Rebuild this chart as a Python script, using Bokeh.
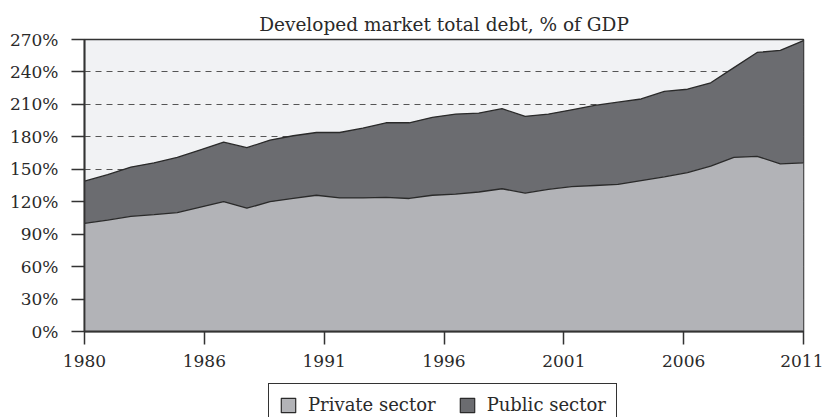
from bokeh.plotting import figure
from bokeh.layouts import column
from bokeh.models import Range1d, FixedTicker, Legend, LegendItem, ColumnDataSource
from bokeh.embed import file_html
from bokeh.resources import INLINE

years = list(range(1980, 2012))
private_sector = [100, 103, 106.5, 108, 110, 115, 120, 114, 120, 123, 126, 123.5,
                  123.5, 124, 123, 126, 127, 129, 132, 128, 131.5, 134, 135, 136,
                  139.5, 143, 147, 153, 161, 162, 155, 156]
public_sector = [39, 42, 45.5, 48, 51, 53, 55, 56, 57, 58, 58, 60.5,
                 64.5, 69, 70, 72, 74, 73, 74, 71, 69.5, 71, 74, 76,
                 75.5, 79, 77, 77, 83, 96, 105, 113]
y_ticks = [0, 30, 60, 90, 120, 150, 180, 210, 240, 270]
y_tick_labels = ["0%", "30%", "60%", "90%", "120%", "150%", "180%", "210%", "240%", "270%"]
x_tick_labels = ["1980", "1986", "1991", "1996", "2001", "2006", "2011"]
title_text = "Developed market total debt, % of GDP"
series_names = ["Private sector", "Public sector"]

FONT = "DejaVu Serif"
DARK = "#2a2a2a"
PRIVATE_COLOR = "#b2b3b7"
PUBLIC_COLOR = "#6b6c70"

total = [a + b for a, b in zip(private_sector, public_sector)]
zeros = [0] * len(years)
src = ColumnDataSource(dict(x=years, zero=zeros, private=private_sector, total=total))

x0, x1 = years[0], years[-1]
n = len(x_tick_labels) - 1
x_tick_pos = [x0 + i * (x1 - x0) / n for i in range(len(x_tick_labels))]

# ---------------- main chart ----------------
p = figure(width=823, height=375, output_backend="svg", toolbar_location=None,
           x_range=Range1d(x0, x1), y_range=Range1d(0, 270),
           min_border_left=84, min_border_right=20, min_border_top=39, min_border_bottom=44,
           title=title_text)

p.background_fill_color = "#f1f2f4"
p.border_fill_color = "white"
p.outline_line_color = "#333333"
p.outline_line_width = 1.5

p.title.align = "center"
p.title.text_font = FONT
p.title.text_font_size = "18.5px"
p.title.text_font_style = "normal"
p.title.text_color = DARK

p.varea(x="x", y1="zero", y2="private", source=src, fill_color=PRIVATE_COLOR)
p.varea(x="x", y1="private", y2="total", source=src, fill_color=PUBLIC_COLOR)
p.line(x="x", y="private", source=src, line_color=DARK, line_width=1.3)
p.line(x="x", y="total", source=src, line_color=DARK, line_width=1.3)

p.xgrid.visible = False
p.ygrid.ticker = FixedTicker(ticks=y_ticks)
p.ygrid.grid_line_color = "#555555"
p.ygrid.grid_line_dash = "6 5"
p.ygrid.grid_line_width = 1.2

for ax in (p.xaxis[0], p.yaxis[0]):
    ax.axis_line_color = "#333333"
    ax.axis_line_width = 1.8
    ax.major_tick_line_color = "#333333"
    ax.major_tick_line_width = 1.5
    ax.major_tick_in = 0
    ax.major_tick_out = 13
    ax.minor_tick_line_color = None
    ax.major_label_text_font = FONT
    ax.major_label_text_font_size = "17px"
    ax.major_label_text_color = DARK

p.yaxis.ticker = FixedTicker(ticks=y_ticks)
p.yaxis.major_label_overrides = {t: lab for t, lab in zip(y_ticks, y_tick_labels)}
p.yaxis.major_label_standoff = 13

p.xaxis.ticker = FixedTicker(ticks=x_tick_pos)
p.xaxis.major_label_overrides = {t: lab for t, lab in zip(x_tick_pos, x_tick_labels)}
p.xaxis.major_label_standoff = 10

# ---------------- legend strip ----------------
lg = figure(width=823, height=42, output_backend="svg", toolbar_location=None,
            x_range=Range1d(0, 1), y_range=Range1d(0, 1),
            x_axis_location=None, y_axis_location=None,
            min_border_left=0, min_border_right=0, min_border_top=0, min_border_bottom=0)
lg.outline_line_color = None
lg.background_fill_color = "white"
lg.border_fill_color = "white"
lg.xgrid.visible = False
lg.ygrid.visible = False

nan = float("nan")
proxy = ColumnDataSource(dict(l=[nan], r=[nan], b=[nan], t=[nan]))
r_priv = lg.quad(left="l", right="r", bottom="b", top="t", source=proxy,
                 fill_color=PRIVATE_COLOR, line_color=DARK, line_width=1.2)
r_pub = lg.quad(left="l", right="r", bottom="b", top="t", source=proxy,
                fill_color=PUBLIC_COLOR, line_color=DARK, line_width=1.2)

legend = Legend(items=[LegendItem(label=series_names[0], renderers=[r_priv], index=0),
                       LegendItem(label=series_names[1], renderers=[r_pub], index=0)],
                orientation="horizontal", location=(184, -9))
legend.label_text_font = FONT
legend.label_text_font_size = "18px"
legend.label_text_color = DARK
legend.glyph_width = 18
legend.glyph_height = 18
legend.label_height = 20
legend.label_standoff = 11
legend.spacing = 22
legend.padding = 10
legend.margin = 0
legend.border_line_color = "#333333"
legend.border_line_alpha = 1.0
legend.border_line_width = 1.5
legend.background_fill_color = "white"
legend.background_fill_alpha = 1
lg.add_layout(legend, "center")

layout = column(p, lg, spacing=0)
open("out.html", "w").write(file_html(layout, INLINE))
